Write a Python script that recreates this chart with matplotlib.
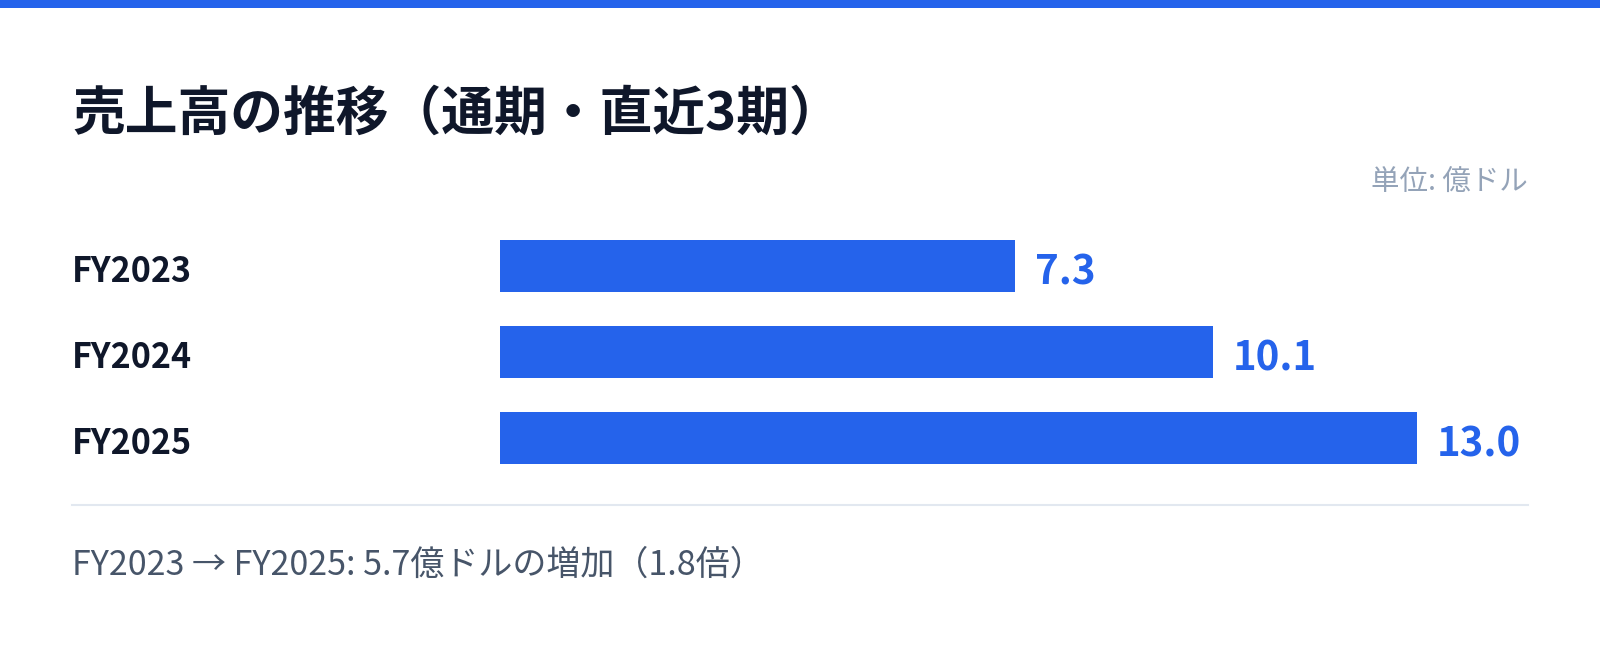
import matplotlib
matplotlib.use('Agg')
import matplotlib.pyplot as plt
import matplotlib.transforms as mtransforms
from matplotlib.patches import Rectangle
from matplotlib.lines import Line2D

plt.rcParams['font.family'] = ['Noto Sans CJK JP', 'DejaVu Sans']

years = ['FY2023', 'FY2024', 'FY2025']
sales = [7.3, 10.1, 13.0]
title = '売上高の推移（通期・直近3期）'
unit = '単位: 億ドル'

blue = '#2563EB'
W, H = 1600, 647

fig = plt.figure(figsize=(16, 6.47), dpi=100)
fig.patch.set_facecolor('white')

# 上の青い帯
fig.patches.append(Rectangle((0, 1 - 8 / H), 1, 8 / H, transform=fig.transFigure,
                             facecolor=blue, edgecolor='none'))

fig.text(72 / W, 1 - 114 / H, title, fontsize=38, fontweight='bold',
         color='#0F172A', va='center', ha='left')
fig.text(1528 / W, 1 - 183 / H, unit, fontsize=20.5, color='#94A3B8',
         va='center', ha='right')

# 棒グラフ
ax = fig.add_axes([500 / W, 1 - 481 / H, 1028 / W, 258 / H])
y = list(range(len(years)))
ax.barh(y, sales, height=0.605, color=blue)
ax.set_xlim(0, 1028 / 70.55)
ax.set_ylim(2.5, -0.5)
ax.axis('off')

for yi, v in zip(y, sales):
    ax.annotate(f'{v:.1f}', (v, yi), xytext=(14.4, -5), textcoords='offset points',
                va='center', ha='left', fontsize=29, fontweight='bold', color=blue)

trans = mtransforms.blended_transform_factory(fig.transFigure, ax.transData)
for yi, name in zip(y, years):
    ax.text(72 / W, yi + 0.06, name, transform=trans, va='center', ha='left',
            fontsize=24.5, fontweight='bold', color='#0F172A', clip_on=False)

fig.lines.append(Line2D([72 / W, 1528 / W], [1 - 505 / H, 1 - 505 / H],
                        transform=fig.transFigure, color='#E2E8F0', linewidth=1.5))

diff = sales[-1] - sales[0]
ratio = sales[-1] / sales[0]
footer = f'{years[0]} → {years[-1]}: {diff:.1f}億ドルの増加（{ratio:.1f}倍）'
fig.text(72 / W, 1 - 565 / H, footer, fontsize=24.5, color='#475569',
         va='center', ha='left')

fig.savefig('out.png', dpi=100, facecolor='white')
